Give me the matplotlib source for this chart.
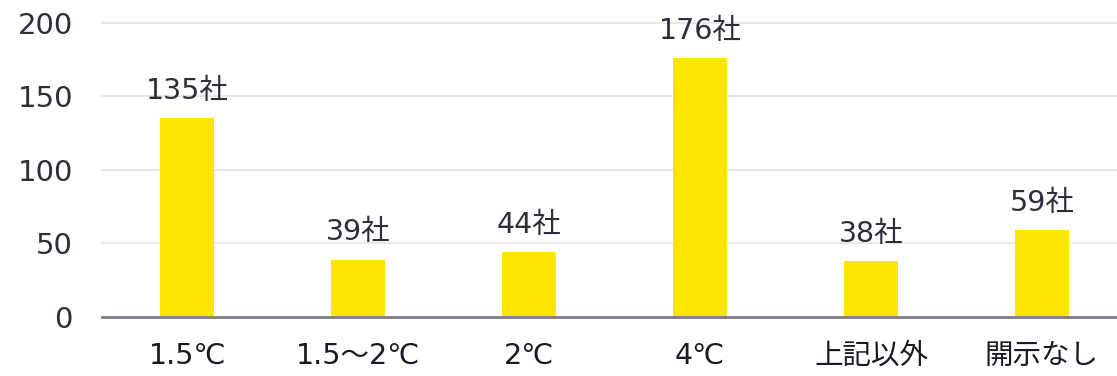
import matplotlib
matplotlib.use("Agg")
import matplotlib.pyplot as plt

# data
categories = ["1.5℃", "1.5～2℃", "2℃", "4℃", "上記以外", "開示なし"]
counts = [135, 39, 44, 176, 38, 59]
bar_labels = ["135社", "39社", "44社", "176社", "38社", "59社"]
y_ticks = [0, 50, 100, 150, 200]

plt.rcParams['font.family'] = ['DejaVu Sans', 'Noto Sans CJK JP']

fig = plt.figure(figsize=(11.17, 3.76), dpi=100)
ax = fig.add_axes([0.0913, 0.157, 0.918, 0.782])

x = list(range(len(categories)))
ax.bar(x, counts, width=0.316, color='#FFE600', zorder=3)

for xi, v, lab in zip(x, counts, bar_labels):
    ax.annotate(lab, (xi, v), xytext=(0, 14), textcoords='offset points',
                ha='center', va='baseline', fontsize=20.5, color='#2E2E38')

ax.set_xlim(-0.5, len(categories) - 0.5)
ax.set_ylim(0, 200)
ax.set_yticks(y_ticks)
ax.set_xticks(x)
ax.set_xticklabels(categories, fontsize=20.5, color='#1A1A24')
ax.tick_params(axis='y', labelsize=21, labelcolor='#2E2E38', length=0, pad=21)
ax.tick_params(axis='x', length=0, pad=18)

ax.grid(axis='y', color='#E8E8E8', linewidth=1.5, zorder=0)
for side in ['top', 'right', 'left']:
    ax.spines[side].set_visible(False)
ax.spines['bottom'].set_color('#7F7E88')
ax.spines['bottom'].set_linewidth(2)
ax.spines['bottom'].set_zorder(4)
for gl in ax.get_ygridlines():
    gl.set_clip_on(False)

fig.savefig('out.png', dpi=100)
